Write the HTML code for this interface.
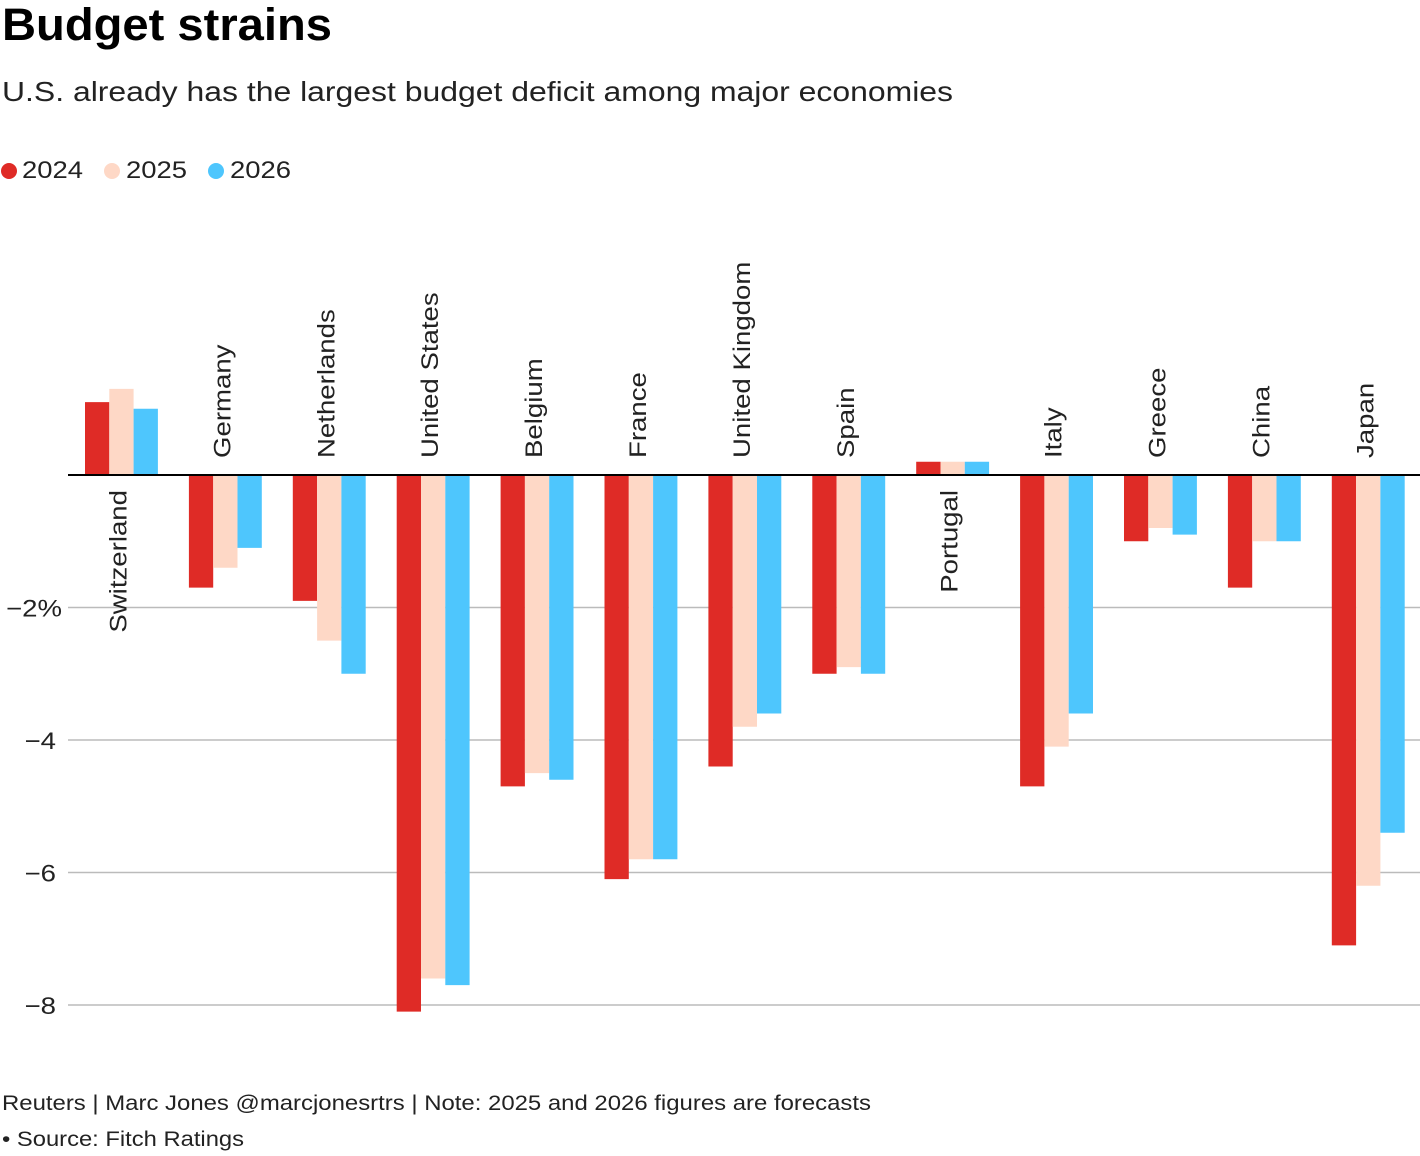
<!DOCTYPE html>
<html><head><meta charset="utf-8"><style>
body{margin:0;background:#fff;font-family:"Liberation Sans",Arial,sans-serif;}
svg{display:block}
</style></head><body>
<svg id="chart" width="1420" height="1156" font-family="Liberation Sans, Arial, sans-serif">
<text x="2" y="40" font-size="45" font-weight="bold" textLength="330" lengthAdjust="spacingAndGlyphs" fill="#000">Budget strains</text>
<text x="2" y="101" font-size="28" textLength="951" lengthAdjust="spacingAndGlyphs" fill="#222">U.S. already has the largest budget deficit among major economies</text>
<g>
<circle cx="9" cy="171" r="8" fill="#df2b26"/>
<text x="22" y="178" font-size="24" textLength="61" lengthAdjust="spacingAndGlyphs" fill="#222">2024</text>
<circle cx="112" cy="171" r="8" fill="#fed8c6"/>
<text x="126" y="178" font-size="24" textLength="61" lengthAdjust="spacingAndGlyphs" fill="#222">2025</text>
<circle cx="216" cy="171" r="8" fill="#4ec6fd"/>
<text x="230" y="178" font-size="24" textLength="61" lengthAdjust="spacingAndGlyphs" fill="#222">2026</text>
</g>
<g id="grid"></g>
<g id="bars"></g>
<g id="labels"></g>
<line x1="68" x2="1420" y1="475" y2="475" stroke="#000" stroke-width="2"/>
<text x="2" y="1110" font-size="21" textLength="869" lengthAdjust="spacingAndGlyphs" fill="#222">Reuters | Marc Jones @marcjonesrtrs | Note: 2025 and 2026 figures are forecasts</text>
<text x="2" y="1146" font-size="21" textLength="242" lengthAdjust="spacingAndGlyphs" fill="#222">• Source: Fitch Ratings</text>
</svg>
<script>
const categories=["Switzerland","Germany","Netherlands","United States","Belgium","France","United Kingdom","Spain","Portugal","Italy","Greece","China","Japan"];
const v2024=[1.1,-1.7,-1.9,-8.1,-4.7,-6.1,-4.4,-3.0,0.2,-4.7,-1.0,-1.7,-7.1];
const v2025=[1.3,-1.4,-2.5,-7.6,-4.5,-5.8,-3.8,-2.9,0.2,-4.1,-0.8,-1.0,-6.2];
const v2026=[1.0,-1.1,-3.0,-7.7,-4.6,-5.8,-3.6,-3.0,0.2,-3.6,-0.9,-1.0,-5.4];
const ticks=[-2,-4,-6,-8];
const tickLabels=["−2%","−4","−6","−8"];
const NS="http://www.w3.org/2000/svg";
const y=v=>475-v*66.25;
const groupX=i=>85+i*103.9;
const bw=24.3;
const grid=document.getElementById('grid');
ticks.forEach((t,i)=>{
 const l=document.createElementNS(NS,'line');
 l.setAttribute('x1',68);l.setAttribute('x2',1420);l.setAttribute('y1',y(t));l.setAttribute('y2',y(t));
 l.setAttribute('stroke','#bbb');l.setAttribute('stroke-width','1.5');
 
 
 grid.appendChild(l);
 const tx=document.createElementNS(NS,'text');
 const ex=i===0?62:56;
 tx.setAttribute('transform','translate('+ex+','+(y(t)+9)+') scale(1.15,1)');
 tx.setAttribute('text-anchor','end');
 tx.setAttribute('font-size','24');tx.setAttribute('fill','#222');tx.textContent=tickLabels[i];
 
 
 grid.appendChild(tx);
});
const bars=document.getElementById('bars'),labels=document.getElementById('labels');
const series=[v2024,v2025,v2026],colors=["#df2b26","#fed8c6","#4ec6fd"],yrs=["2024","2025","2026"];
categories.forEach((c,i)=>{
 series.forEach((s,k)=>{
  const r=document.createElementNS(NS,'rect');
  const v=s[i];
  r.setAttribute('x',groupX(i)+k*bw);r.setAttribute('width',bw);
  r.setAttribute('y',Math.min(y(v),y(0)));r.setAttribute('height',Math.abs(y(v)-y(0)));
  r.setAttribute('fill',colors[k]);
  
  
  bars.appendChild(r);
 });
 const cx=groupX(i)+bw*1.5+5;
 const pos=v2024[i]>0;
 const t=document.createElementNS(NS,'text');
 const ty=pos?490:458;
 t.setAttribute('transform','translate('+cx+','+ty+') rotate(-90) scale(1.15,1)');
 t.setAttribute('text-anchor',pos?'end':'start');
 t.setAttribute('font-size','24');t.setAttribute('fill','#222');
 t.textContent=c;
 
 
 labels.appendChild(t);
});
</script>
</body></html>
